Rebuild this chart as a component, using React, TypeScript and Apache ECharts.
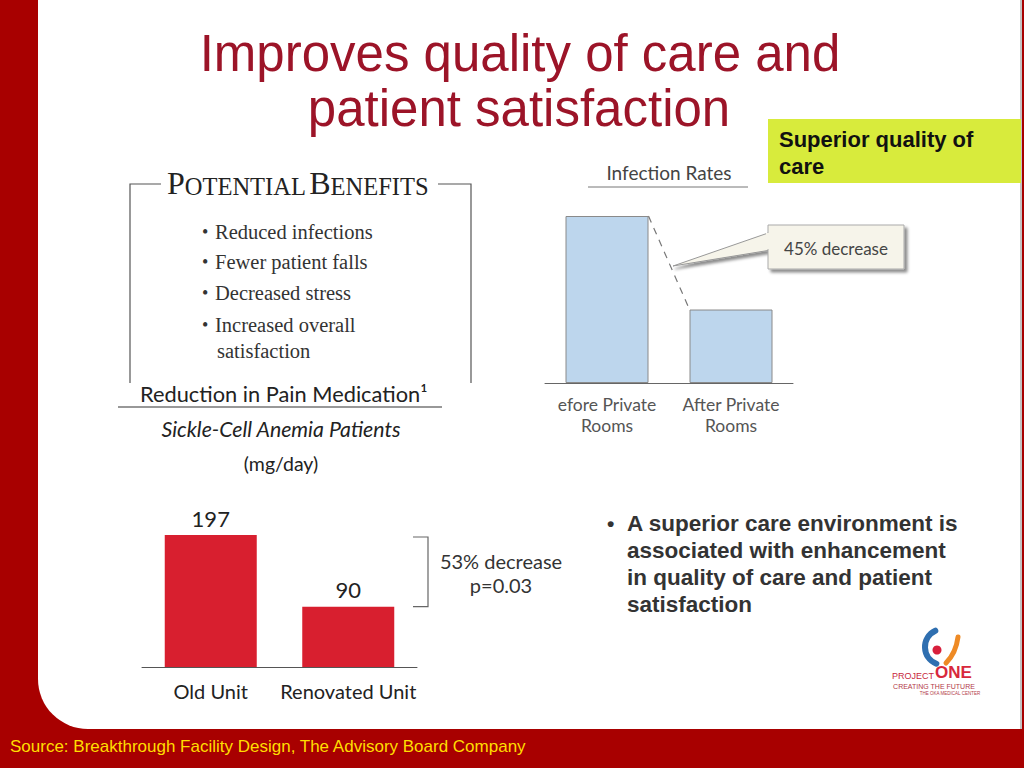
import React, { useEffect, useRef } from "react";
import * as echarts from "echarts";

const titleLines = ["Improves quality of care and", "patient satisfaction"];
const painCategories = ["Old Unit", "Renovated Unit"];
const painValues = [197, 90];
const painAxisMax = 200;
const infectionCategories = ["efore Private\nRooms", "After Private\nRooms"];
const infectionValues = [100, 44];
const infectionAxisMax = 100;
const benefitLines = ["Reduced infections", "Fewer patient falls", "Decreased stress", "Increased overall"];
const benefitContinuation = "satisfaction";
const bulletLines = [
  "A superior care environment is",
  "associated with enhancement",
  "in quality of care and patient",
  "satisfaction",
];
const calloutText = "45% decrease";
const painNote = ["53% decrease", "p=0.03"];
const sourceText = "Source: Breakthrough Facility Design, The Advisory Board Company";

const RED = "#a80000";
const TITLE = "#9c1428";
const GILL = "Lato, 'Open Sans', sans-serif";
const SERIF = "'Liberation Serif', 'DejaVu Serif', serif";
const ARIAL = "'Liberation Sans', Arial, sans-serif";

function txt(x: number, y: number, text: string, font: string, fill: string, align = "left", extra: any = {}) {
  return {
    type: "text",
    x,
    y,
    z: 10,
    style: { text, font, fill, align, verticalAlign: "middle", ...extra },
  };
}

export default function App() {
  const ref = useRef<HTMLDivElement>(null);
  useEffect(() => {
    document.body.style.margin = "0";
    const chart = echarts.init(ref.current!, undefined, { renderer: "svg", width: 1024, height: 768 });
    const barBase = {
      type: "bar",
      z: 5,
    };
    chart.setOption({
      animation: false,
      backgroundColor: "transparent",
      grid: [
        { left: 142, width: 275, top: 533, height: 134 },
        { left: 545, width: 248, top: 216, height: 167 },
      ],
      xAxis: [
        {
          gridIndex: 0,
          type: "category",
          data: painCategories,
          axisLine: { lineStyle: { color: "#555", width: 1 } },
          axisTick: { show: false },
          axisLabel: { interval: 0, fontSize: 20, color: "#222", fontFamily: GILL, margin: 14 },
          z: 6,
        },
        {
          gridIndex: 1,
          type: "category",
          data: infectionCategories,
          axisLine: { lineStyle: { color: "#666", width: 1 } },
          axisTick: { show: false },
          axisLabel: { interval: 0, fontSize: 17.5, color: "#555", fontFamily: GILL, margin: 11, lineHeight: 21 },
          z: 6,
        },
      ],
      yAxis: [
        { gridIndex: 0, type: "value", min: 0, max: painAxisMax, show: false },
        { gridIndex: 1, type: "value", min: 0, max: infectionAxisMax, show: false },
      ],
      series: [
        {
          ...barBase,
          xAxisIndex: 0,
          yAxisIndex: 0,
          data: painValues,
          barWidth: 92,
          itemStyle: { color: "#d81f2f" },
          label: { show: true, position: "top", distance: 6, fontSize: 22, color: "#222", fontFamily: GILL },
        },
        {
          ...barBase,
          xAxisIndex: 1,
          yAxisIndex: 1,
          data: infectionValues,
          barWidth: 83,
          itemStyle: { color: "#bdd6ed", borderColor: "#8a8a8a", borderWidth: 1 },
        },
      ],
    });

    const p0a = chart.convertToPixel({ xAxisIndex: 0, yAxisIndex: 0 }, [0, painValues[0]]) as number[];
    const p0b = chart.convertToPixel({ xAxisIndex: 0, yAxisIndex: 0 }, [1, painValues[1]]) as number[];
    const p1a = chart.convertToPixel({ xAxisIndex: 1, yAxisIndex: 1 }, [0, infectionValues[0]]) as number[];
    const p1b = chart.convertToPixel({ xAxisIndex: 1, yAxisIndex: 1 }, [1, infectionValues[1]]) as number[];
    const bx = 428;

    const graphic: any[] = [
      { type: "rect", z: -10, shape: { x: 0, y: 0, width: 1024, height: 768 }, style: { fill: RED } },
      { type: "rect", z: -9, shape: { x: 38, y: 0, width: 984, height: 729, r: [0, 0, 0, 50] }, style: { fill: "#ffffff" } },
      { type: "rect", z: -8, shape: { x: 1020, y: 0, width: 2, height: 729 }, style: { fill: "#c4c4c4" } },
      // title
      txt(520, 53, titleLines[0], `51px ${ARIAL}`, TITLE, "center"),
      txt(519, 108, titleLines[1], `51px ${ARIAL}`, TITLE, "center"),
      // superior box
      { type: "rect", z: 1, shape: { x: 768, y: 119, width: 253, height: 64 }, style: { fill: "#d8eb3c" } },
      txt(779, 139, "Superior quality of", `bold 22px ${ARIAL}`, "#111"),
      txt(779, 166, "care", `bold 22px ${ARIAL}`, "#111"),
      // potential benefits frame
      { type: "polyline", z: 3, shape: { points: [[130, 383], [130, 184], [161, 184]] }, style: { stroke: "#555", lineWidth: 1.2, fill: "none" } },
      { type: "polyline", z: 3, shape: { points: [[438, 184], [471, 184], [471, 383]] }, style: { stroke: "#555", lineWidth: 1.2, fill: "none" } },
      {
        type: "text",
        x: 167,
        y: 183,
        z: 10,
        style: {
          text: "{b|P}{s|OTENTIAL} {b|B}{s|ENEFITS}",
          fill: "#222",
          verticalAlign: "middle",
          rich: {
            b: { fontSize: 32, fontFamily: SERIF, fill: "#222", verticalAlign: "bottom" },
            s: { fontSize: 24.5, fontFamily: SERIF, fill: "#222", verticalAlign: "bottom" },
          },
        },
      },
      ...benefitLines.flatMap((l, i) => [
        txt(202, [232, 262, 293, 325][i], "•", `18px ${SERIF}`, "#333"),
        txt(215, [232, 262, 293, 325][i], l, `20.5px ${SERIF}`, "#333"),
      ]),
      txt(217, 351, benefitContinuation, `20.5px ${SERIF}`, "#333"),
      // pain medication header
      txt(140, 393, "Reduction in Pain Medication¹", `21.8px ${GILL}`, "#222"),
      { type: "line", z: 3, shape: { x1: 118, y1: 407, x2: 442, y2: 407 }, style: { stroke: "#333", lineWidth: 1.2 } },
      txt(281, 429, "Sickle-Cell Anemia Patients", `italic 21.3px ${GILL}`, "#222", "center"),
      txt(281, 463, "(mg/day)", `19.5px ${GILL}`, "#222", "center"),
      // bracket
      {
        type: "polyline",
        z: 3,
        shape: { points: [[bx - 15, p0a[1] + 2], [bx, p0a[1] + 2], [bx, p0b[1]], [bx - 15, p0b[1]]] },
        style: { stroke: "#666", lineWidth: 1.2, fill: "none" },
      },
      txt(501, 561, painNote[0], `20px ${GILL}`, "#333", "center"),
      txt(501, 585, painNote[1], `20px ${GILL}`, "#333", "center"),
      // infection header
      txt(669, 172, "Infection Rates", `19px ${GILL}`, "#444", "center"),
      { type: "line", z: 3, shape: { x1: 588, y1: 187, x2: 748, y2: 187 }, style: { stroke: "#777", lineWidth: 1 } },
      // dashed connector
      {
        type: "line",
        z: 6,
        shape: { x1: p1a[0] + 41.5, y1: p1a[1], x2: p1b[0] - 41.5, y2: p1b[1] },
        style: { stroke: "#777", lineWidth: 1.2, lineDash: [7, 6] },
      },
      // callout
      {
        type: "polygon",
        z: 7,
        shape: { points: [[771, 232], [673, 266], [771, 250]] },
        style: { fill: "#f6f4ea", stroke: "#999", lineWidth: 1, shadowBlur: 3, shadowOffsetX: 2, shadowOffsetY: 3, shadowColor: "rgba(0,0,0,0.45)" },
      },
      {
        type: "rect",
        z: 8,
        shape: { x: 768, y: 225, width: 136, height: 44 },
        style: { fill: "#f6f4ea", stroke: "#aaa", lineWidth: 1, shadowBlur: 3, shadowOffsetX: 3, shadowOffsetY: 3, shadowColor: "rgba(0,0,0,0.45)" },
      },
      { type: "rect", z: 9, shape: { x: 766, y: 233, width: 4, height: 16 }, style: { fill: "#f6f4ea" } },
      txt(836, 248, calloutText, `17px ${GILL}`, "#444", "center"),
      // right bullet
      txt(607, 523, "•", `bold 21px ${ARIAL}`, "#333"),
      ...bulletLines.map((l, i) => txt(627, 523 + i * 27, l, `bold 22.5px ${ARIAL}`, "#333")),
      // logo
      {
        type: "arc",
        z: 5,
        shape: { cx: 943, cy: 647, r: 18, startAngle: Math.PI * 0.62, endAngle: Math.PI * 1.36 },
        style: { stroke: "#2f6fb0", lineWidth: 6, lineCap: "round", fill: "none" },
      },
      { type: "circle", z: 5, shape: { cx: 937, cy: 650, r: 4.5 }, style: { fill: "#d81f3c" } },
      {
        type: "bezierCurve",
        z: 5,
        shape: { x1: 958, y1: 637, x2: 946, y2: 663, cpx1: 956, cpy1: 653 },
        style: { stroke: "#ee8a25", lineWidth: 5, lineCap: "round", fill: "none" },
      },
      txt(934, 676, "PROJECT", `9px ${ARIAL}`, "#c8283c", "right"),
      txt(935, 672, "ONE", `bold 17px ${ARIAL}`, "#d8283c", "left"),
      txt(934, 686, "CREATING THE FUTURE", `7px ${ARIAL}`, "#b23a48", "center"),
      txt(950, 693, "THE OKA MEDICAL CENTER", `4.5px ${ARIAL}`, "#b23a48", "center"),
      // source
      txt(10, 746, sourceText, `17px ${ARIAL}`, "#ffdd00"),
    ];

    chart.setOption({ graphic });
    return () => chart.dispose();
  }, []);
  return <div ref={ref} style={{ width: 1024, height: 768 }} />;
}
